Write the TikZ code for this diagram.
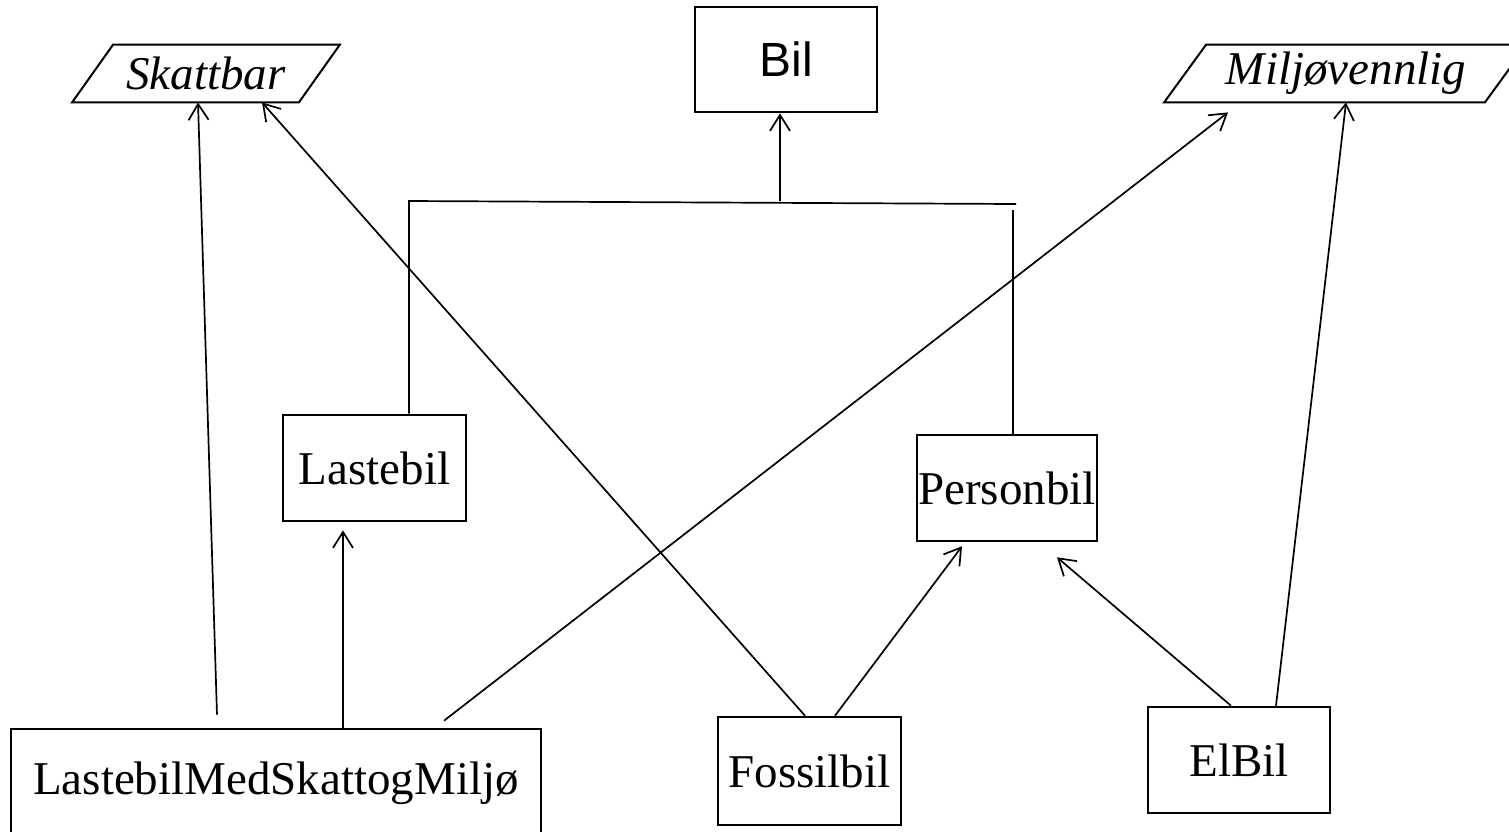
\documentclass[tikz,border=0pt]{standalone}
\usepackage{fontspec}
\setmainfont{Liberation Serif}
\newfontfamily\bilfont{Liberation Sans}
\usetikzlibrary{arrows.meta,calc}
\begin{document}
\begin{tikzpicture}[x=0.5pt,y=-0.5pt,
  cls/.style={draw,line width=1.3pt,inner sep=0pt,
    font=\fontsize{23.5}{28}\selectfont},
  iface/.style={inner sep=0pt,minimum height=28.5pt,
    font=\fontsize{23.5}{28}\selectfont\itshape},
  para/.style={line width=1pt,line join=miter},
  link/.style={line width=0.85pt},
  arr/.style={link,-{Straight Barb[length=8pt,width=10pt,line width=0.85pt]}}]
\useasboundingbox (0,0) rectangle (1509,831);
\clip (0,0) rectangle (1509,831);
\fill[white] (0,0) rectangle (1509,831);

% classes
\node[cls,minimum width=91pt,minimum height=52.5pt,font=\fontsize{24}{28}\bilfont] (bil) at (786,59.5) {Bil};
\node[cls,minimum width=91.5pt,minimum height=53pt] (last) at (374.5,468) {Lastebil};
\node[cls,minimum width=90pt,minimum height=53pt] (pers) at (1007,488) {Personbil};
\node[cls,minimum width=265pt,minimum height=54pt] (lmsm) at (276,783) {LastebilMedSkattogMiljø};
\node[cls,minimum width=91.5pt,minimum height=54pt] (foss) at (809.5,771) {Fossilbil};
\node[cls,minimum width=91pt,minimum height=53pt] (elb) at (1239,760) {ElBil};

% interfaces, drawn as slanted boxes
\node[iface,minimum width=117pt] (sk) at (206,73.5) {Skattbar};
\node[iface,minimum width=166pt] (mv) at (1346,73.5) {Miljøvennlig};
\draw[para] ([xshift=-8.25pt]sk.south west) -- ([xshift=-12.25pt]sk.south east)
  -- ([xshift=8.25pt]sk.north east) -- ([xshift=12.25pt]sk.north west) -- cycle;
\draw[para] ([xshift=-7.75pt]mv.south west) -- ([xshift=-13.75pt]mv.south east)
  -- ([xshift=7.25pt]mv.north east) -- ([xshift=13.25pt]mv.north west) -- cycle;

% inheritance tree under Bil
\coordinate (jl) at (409,201);
\coordinate (jt) at (780,201);
\coordinate (jr) at (1016,204);
\coordinate (jd) at (1013,210);
\draw[link] (409,0 |- last.north) -- (jl) -- (jr);
\draw[link] (jd) -- (1013,0 |- pers.north);
\draw[arr] (jt) -- (780,0 |- bil.south);

% subclass and interface links
\draw[arr] ($(217,0 |- lmsm.north)+(0,-13)$) -- (198,0 |- sk.south);
\draw[arr] (343,0 |- lmsm.north) -- ($(343,0 |- last.south)+(0,8)$);
\draw[arr] ($(444,0 |- lmsm.north)+(0,-7)$) -- ($(1228,0 |- mv.south)+(0,10)$);
\draw[arr] (805,0 |- foss.north) -- (262,0 |- sk.south);
\draw[arr] (835,0 |- foss.north) -- ($(962,0 |- pers.south)+(0,4)$);
\draw[arr] (1231,0 |- elb.north) -- ($(1057,0 |- pers.south)+(0,15)$);
\draw[arr] (1276,0 |- elb.north) -- (1346,0 |- mv.south);
\end{tikzpicture}
\end{document}
